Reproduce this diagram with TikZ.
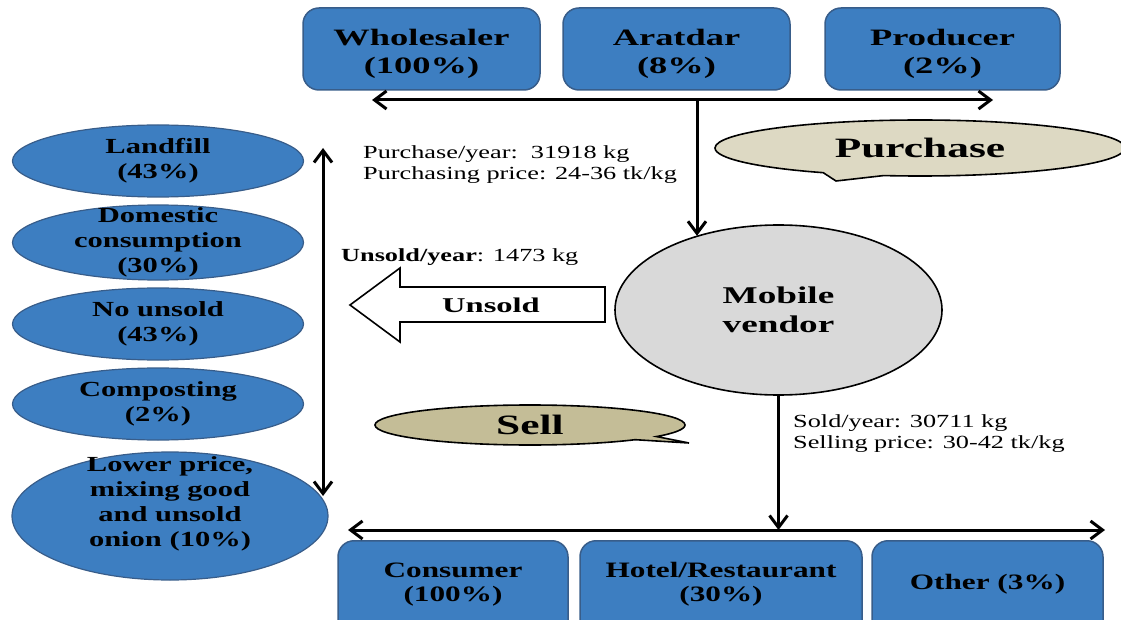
\documentclass[tikz,border=0pt]{standalone}
\usepackage{fontspec}
\setmainfont{Liberation Serif}
\newfontfamily\wideface[FakeStretch=1.55]{Liberation Serif}
\newfontfamily\midface[FakeStretch=1.42]{Liberation Serif}
\usetikzlibrary{arrows.meta,shapes.geometric,shapes.callouts}

\definecolor{boxblue}{RGB}{61,126,193}
\definecolor{boxedge}{RGB}{56,93,138}
\definecolor{paleKhaki}{RGB}{221,217,195}
\definecolor{darkKhaki}{RGB}{196,189,151}
\definecolor{vendgray}{RGB}{217,217,217}

\tikzset{
  topbox/.style={draw=boxedge, line width=1.5pt, fill=boxblue, rounded corners=16pt,
    minimum height=82pt, inner sep=0pt, align=center,
    font=\wideface\bfseries\fontsize{23.5}{28}\selectfont},
  botbox/.style={draw=boxedge, line width=1.5pt, fill=boxblue, rounded corners=16pt,
    minimum height=96pt, inner sep=0pt, align=center, anchor=north,
    font=\midface\bfseries\fontsize{22}{24}\selectfont},
  stage/.style={ellipse, draw=boxedge, line width=1.2pt, fill=boxblue, inner sep=-15pt,
    align=center, font=\midface\bfseries\fontsize{21.5}{25}\selectfont},
  note/.style={anchor=west, align=left, inner sep=0pt,
    font=\midface\fontsize{18.5}{21}\selectfont},
  arr/.style={-{Straight Barb[length=12pt,width=18pt]}, line width=3pt},
  dbl/.style={{Straight Barb[length=12pt,width=18pt]}-{Straight Barb[length=12pt,width=18pt]}, line width=3pt},
  bubble/.style={ellipse callout, draw, line width=1.6pt, inner sep=0pt,
    font=\wideface\bfseries\fontsize{28}{32}\selectfont}
}

\begin{document}
\begin{tikzpicture}[x=1pt,y=-1pt]
\useasboundingbox (0,0) rectangle (1121,620);

% suppliers
\node[topbox, minimum width=237pt] (whole) at (421.5,49) {\mbox{}\\[-1pt]Wholesaler\\(100\%)};
\node[topbox, minimum width=227pt] (arat)  at (676.5,49) {\mbox{}\\[-1pt]Aratdar\\(8\%)};
\node[topbox, minimum width=235pt] (prod)  at (942.5,49) {\mbox{}\\[-1pt]Producer\\(2\%)};

% fate of unsold stock
\node[stage, minimum width=291pt, minimum height=72pt] (landfill) at (158,161) {Landfill\\(43\%)};
\node[stage, minimum width=291pt, minimum height=75pt] (domestic) at (158,242.5) {Domestic\\consumption\\(30\%)};
\node[stage, minimum width=291pt, minimum height=72pt] (nounsold) at (158,324) {No unsold\\(43\%)};
\node[stage, minimum width=291pt, minimum height=72pt] (compost) at (158,404) {Composting\\(2\%)};
\node[stage, minimum width=316pt, minimum height=128pt] (lower) at (170,516) {Lower price,\\mixing good\\and unsold\\onion (10\%)\\[3pt]\mbox{}};

% central actor
\node[ellipse, draw, line width=1.6pt, fill=vendgray, minimum width=327pt, minimum height=170pt,
  inner sep=0pt, align=center, font=\wideface\bfseries\fontsize{24}{29}\selectfont]
  (vend) at (778.5,310) {Mobile\\vendor};

% callouts
\coordinate (buyTip) at (836,181);
\node[bubble, fill=paleKhaki, minimum width=410pt, minimum height=56pt,
  callout absolute pointer={(buyTip)}, callout pointer arc=18] (buy) at (920,148) {Purchase};
\coordinate (sellTip) at (689,443);
\node[bubble, fill=darkKhaki, minimum width=310pt, minimum height=40pt,
  callout absolute pointer={(sellTip)}, callout pointer arc=12] (sell) at (530,425) {Sell};

% unsold block arrow
\draw[line width=1.6pt, fill=white] (605,287) -- (400,287) -- (400,268) -- (350,305)
  -- (400,342) -- (400,322) -- (605,322) -- cycle;
\node[font=\wideface\bfseries\fontsize{21}{24}\selectfont, inner sep=0pt] (unsoldlbl) at (491,305) {Unsold};

% annotations
\node[note] (buyinfo) at (363,165) {Purchase/year:\ \ 31918 kg\\Purchasing price: 24-36 tk/kg};
\node[note] (sellinfo) at (793,433.5) {Sold/year: 30711 kg\\Selling price: 30-42 tk/kg};
\node[note] (unsoldinfo) at (341,257) {\bfseries Unsold/year\mdseries: 1473 kg};

% buyers
\node[botbox, minimum width=230pt] (consumer) at (453,540) {Consumer\\(100\%)\\[-11pt]\mbox{}};
\node[botbox, minimum width=282pt] (hotel) at (721,540) {Hotel/Restaurant\\(30\%)\\[-11pt]\mbox{}};
\node[botbox, minimum width=231pt] (other) at (987.5,540) {Other (3\%)\\[-11pt]\mbox{}};

% connectors
\coordinate (tL) at (372,100);
\coordinate (tR) at (993,100);
\coordinate (tJ) at (697,100);
\draw[dbl] (tL) -- (tR);
\draw[arr] (tJ) -- (tJ |- vend.138);

\coordinate (lT) at (323,148);
\coordinate (lB) at (323,496);
\draw[dbl] (lT) -- (lB);

\coordinate (bL) at (348,530);
\coordinate (bR) at (1105,530);
\coordinate (bJ) at (778.5,530);
\draw[dbl] (bL) -- (bR);
\draw[arr] (vend.south) -- (bJ);
\end{tikzpicture}
\end{document}
